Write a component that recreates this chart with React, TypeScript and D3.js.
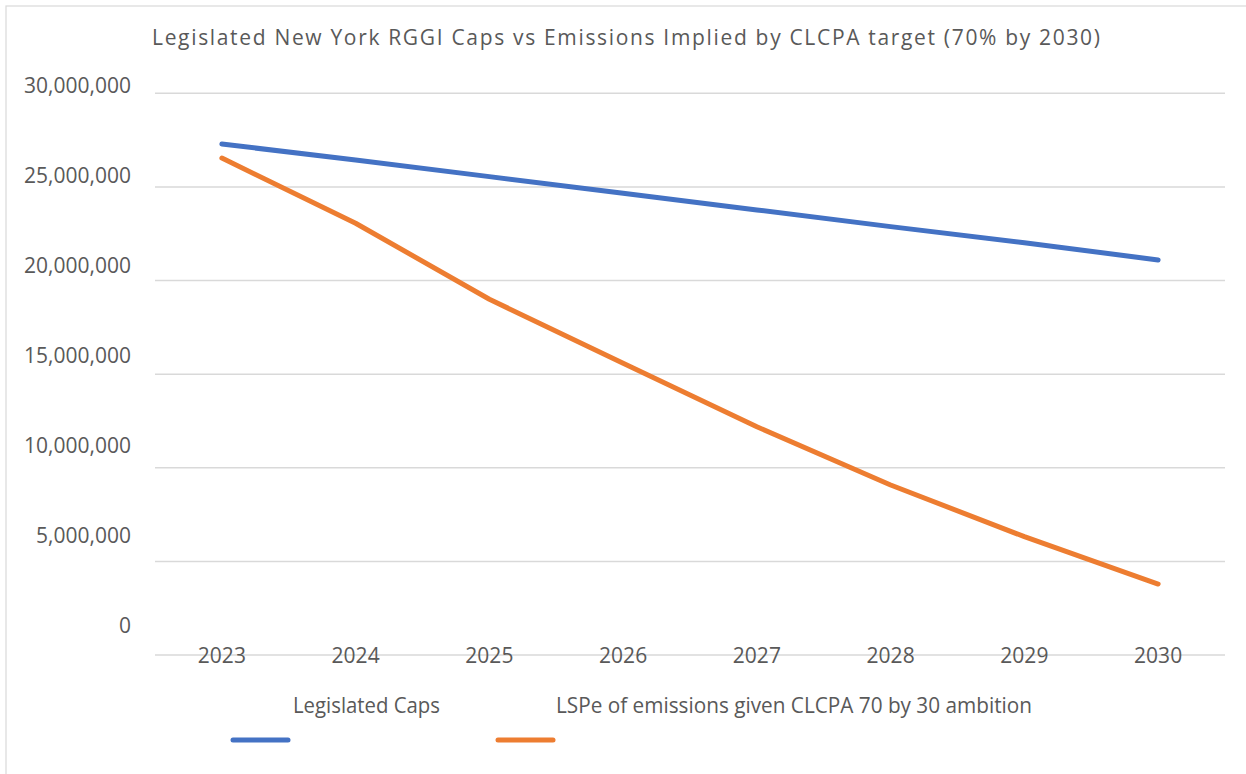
import React from "react";
import * as d3 from "d3";

const title = "Legislated New York RGGI Caps vs Emissions Implied by CLCPA target (70% by 2030)";
const years = ["2023", "2024", "2025", "2026", "2027", "2028", "2029", "2030"];
const legislatedCaps = [27290000, 26440000, 25550000, 24660000, 23770000, 22880000, 22020000, 21100000];
const lspeEmissions = [26540000, 23060000, 19000000, 15580000, 12190000, 9080000, 6320000, 3790000];
const yTicks = [0, 5000000, 10000000, 15000000, 20000000, 25000000, 30000000];
const seriesNames = ["Legislated Caps", "LSPe of emissions given CLCPA 70 by 30 ambition"];
const seriesColors = ["#4472C4", "#ED7D31"];

const W = 1246;
const H = 774;
const FONT = "'Open Sans', 'Noto Sans', sans-serif";
const TEXT = "#595959";
const GRID = "#D9D9D9";

export default function App() {
  const x = d3.scalePoint<string>().domain(years).range([155, 1225]).padding(0.5);
  const y = d3.scaleLinear().domain([0, 30000000]).range([655, 93.3]);
  const yLabel = d3.scaleLinear().domain([0, 30000000]).range([625, 85]);
  const fmt = d3.format(",");
  const line = d3
    .line<number>()
    .x((_, i) => x(years[i]) as number)
    .y((d) => y(d));
  const series = [legislatedCaps, lspeEmissions];

  const legend = [
    { name: seriesNames[0], color: seriesColors[0], lx: 233, tx: 293, tw: 147 },
    { name: seriesNames[1], color: seriesColors[1], lx: 498, tx: 556, tw: 476 },
  ];

  return (
    <svg
      width={W}
      height={H}
      style={{ position: "absolute", left: 0, top: 0, background: "#fff" }}
      fontFamily={FONT}
    >
      <rect x={6} y={6} width={1400} height={900} fill="#fff" stroke={GRID} strokeWidth={1.2} />
      <text x={152} y={45} fontSize={21} fill={TEXT} textLength={948} lengthAdjust="spacing">
        {title}
      </text>
      {yTicks.map((t) => (
        <line key={"g" + t} x1={155} x2={1225} y1={y(t)} y2={y(t)} stroke={GRID} strokeWidth={1.5} />
      ))}
      {yTicks.map((t) => (
        <text
          key={"l" + t}
          x={131}
          y={yLabel(t)}
          dy="0.36em"
          textAnchor="end"
          fontSize={21}
          fill={TEXT}
        >
          {fmt(t)}
        </text>
      ))}
      {years.map((yr) => (
        <text
          key={yr}
          x={x(yr)}
          y={655}
          dy="0.36em"
          textAnchor="middle"
          fontSize={21}
          fill={TEXT}
        >
          {yr}
        </text>
      ))}
      {series.map((s, i) => (
        <path
          key={i}
          d={line(s) || ""}
          fill="none"
          stroke={seriesColors[i]}
          strokeWidth={5}
          strokeLinecap="round"
          strokeLinejoin="round"
        />
      ))}
      {legend.map((l) => (
        <g key={l.name}>
          <text x={l.tx} y={713} fontSize={21} fill={TEXT} textLength={l.tw} lengthAdjust="spacingAndGlyphs">
            {l.name}
          </text>
          <line
            x1={l.lx}
            x2={l.lx + 55}
            y1={740}
            y2={740}
            stroke={l.color}
            strokeWidth={5}
            strokeLinecap="round"
          />
        </g>
      ))}
    </svg>
  );
}
